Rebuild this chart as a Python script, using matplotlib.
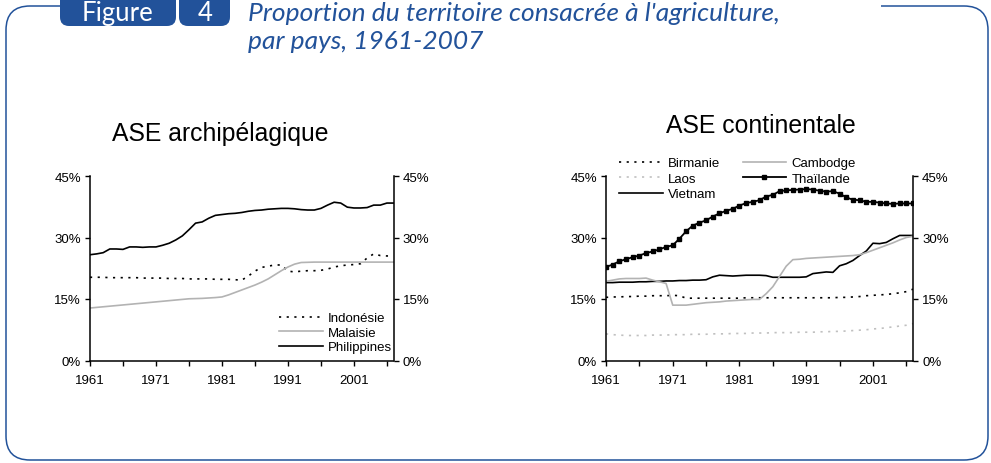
import matplotlib
matplotlib.use("Agg")
import matplotlib.pyplot as plt
import numpy as np
from matplotlib.patches import FancyBboxPatch, PathPatch
from matplotlib.path import Path

# ---------------- data ----------------
years = list(range(1961, 2008))

philippines = [25.8, 26.0, 26.3, 27.2, 27.2, 27.1, 27.7, 27.7, 27.6, 27.7,
               27.7, 28.1, 28.6, 29.4, 30.4, 31.9, 33.5, 33.8, 34.7, 35.4,
               35.6, 35.8, 35.9, 36.1, 36.4, 36.6, 36.7, 36.9, 37.0, 37.1,
               37.1, 37.0, 36.8, 36.7, 36.7, 37.1, 37.9, 38.6, 38.4, 37.4,
               37.2, 37.2, 37.3, 37.9, 37.9, 38.4, 38.4]
indonesie = [20.3, 20.3, 20.3, 20.2, 20.2, 20.2, 20.2, 20.2, 20.1, 20.1,
             20.1, 20.1, 20.0, 20.0, 20.0, 19.9, 19.9, 19.9, 19.9, 19.8,
             19.8, 19.8, 19.7, 19.6, 20.6, 21.8, 22.7, 23.0, 23.3, 23.3,
             21.8, 21.6, 21.8, 21.9, 21.9, 22.0, 22.3, 22.8, 23.1, 23.3,
             23.4, 23.6, 25.0, 26.0, 25.6, 25.5, 25.5]
malaisie = [12.8, 12.95, 13.1, 13.25, 13.4, 13.55, 13.7, 13.85, 14.0, 14.15,
            14.3, 14.45, 14.6, 14.75, 14.9, 15.05, 15.1, 15.15, 15.25, 15.35,
            15.5, 16.0, 16.6, 17.2, 17.8, 18.4, 19.1, 19.9, 20.9, 21.9,
            22.8, 23.5, 23.9, 23.95, 24.0, 24.0, 24.0, 24.0, 24.0, 24.0,
            24.0, 24.0, 24.0, 24.0, 24.0, 24.0, 24.0]

birmanie = [15.4, 15.5, 15.5, 15.6, 15.6, 15.7, 15.7, 15.8, 15.8, 15.8,
            15.9, 15.8, 15.2, 15.2, 15.2, 15.2, 15.2, 15.2, 15.2, 15.2,
            15.2, 15.3, 15.3, 15.3, 15.3, 15.3, 15.3, 15.3, 15.3, 15.3,
            15.3, 15.3, 15.3, 15.3, 15.3, 15.4, 15.4, 15.5, 15.6, 15.8,
            15.9, 16.0, 16.1, 16.3, 16.5, 16.8, 17.4]
cambodge = [19.3, 19.6, 19.9, 20.0, 20.0, 20.0, 20.1, 19.6, 19.2, 18.8,
            13.5, 13.5, 13.5, 13.7, 13.9, 14.1, 14.2, 14.3, 14.5, 14.6,
            14.7, 14.8, 14.9, 14.9, 16.3, 18.0, 20.5, 23.0, 24.6, 24.7,
            24.9, 25.0, 25.1, 25.2, 25.3, 25.4, 25.5, 25.6, 25.8, 26.3,
            26.9, 27.5, 28.1, 28.7, 29.4, 30.0, 30.3]
laos = [6.5, 6.3, 6.2, 6.1, 6.1, 6.1, 6.1, 6.2, 6.2, 6.2,
        6.3, 6.3, 6.3, 6.4, 6.4, 6.4, 6.5, 6.5, 6.5, 6.6,
        6.6, 6.6, 6.7, 6.7, 6.7, 6.8, 6.8, 6.8, 6.8, 6.9,
        6.9, 6.9, 7.0, 7.0, 7.1, 7.1, 7.2, 7.3, 7.4, 7.5,
        7.7, 7.8, 8.0, 8.2, 8.4, 8.6, 9.0]
thailande = [22.8, 23.4, 24.2, 24.7, 25.2, 25.6, 26.2, 26.6, 27.1, 27.7,
             28.1, 29.7, 31.5, 32.9, 33.6, 34.2, 35.1, 35.9, 36.5, 37.0,
             37.8, 38.4, 38.7, 39.1, 40.0, 40.4, 41.3, 41.5, 41.6, 41.7,
             41.8, 41.7, 41.4, 41.2, 41.3, 40.7, 39.8, 39.2, 39.1, 38.7,
             38.7, 38.5, 38.3, 38.2, 38.3, 38.3, 38.3]
vietnam = [19.0, 19.0, 19.1, 19.1, 19.1, 19.2, 19.2, 19.3, 19.3, 19.4,
           19.4, 19.5, 19.5, 19.6, 19.6, 19.7, 20.4, 20.8, 20.7, 20.6,
           20.7, 20.8, 20.8, 20.8, 20.7, 20.3, 20.3, 20.3, 20.3, 20.3,
           20.4, 21.2, 21.4, 21.6, 21.5, 23.1, 23.6, 24.4, 25.6, 26.7,
           28.6, 28.5, 28.8, 29.7, 30.5, 30.5, 30.5]

y_ticks = [0, 15, 30, 45]
y_labels = ["0%", "15%", "30%", "45%"]
x_major = [1961, 1971, 1981, 1991, 2001]
x_minor = [1966, 1976, 1986, 1996, 2006]

title_left = "ASE archipélagique"
title_right = "ASE continentale"
fig_title_1 = "Proportion du territoire consacrée à l'agriculture,"
fig_title_2 = "par pays, 1961-2007"

# ---------------- figure ----------------
W, H = 991, 464
fig = plt.figure(figsize=(W / 100, H / 100), dpi=100)
plt.rcParams["font.family"] = ["Liberation Sans", "DejaVu Sans"]
BLUE = "#22529a"
FS = 9.5

def fx(x):
    return x / W

def fy(y):
    return 1 - y / H

# overlay for frame / header in pixel coordinates
ov = fig.add_axes([0, 0, 1, 1], zorder=-1)
ov.set_xlim(0, W)
ov.set_ylim(H, 0)
ov.axis("off")

r = 24
L, R, T, B = 6, 988, 7, 461
verts = [(60, T), (L + r, T), (L, T), (L, T + r), (L, B - r), (L, B), (L + r, B),
         (R - r, B), (R, B), (R, B - r), (R, T + r), (R, T), (R - r, T), (881, T)]
codes = [Path.MOVETO, Path.LINETO, Path.CURVE3, Path.CURVE3, Path.LINETO,
         Path.CURVE3, Path.CURVE3, Path.LINETO, Path.CURVE3, Path.CURVE3,
         Path.LINETO, Path.CURVE3, Path.CURVE3, Path.LINETO]
ov.add_patch(PathPatch(Path(verts, codes), fill=False, edgecolor=BLUE, lw=1.1))

ov.add_patch(FancyBboxPatch((60, -20), 116, 47, boxstyle="round,pad=0,rounding_size=9",
                            fc=BLUE, ec="none"))
ov.add_patch(FancyBboxPatch((179, -20), 51, 47, boxstyle="round,pad=0,rounding_size=9",
                            fc=BLUE, ec="none"))
ov.text(118, 21, "Figure", color="white", fontsize=18.5, ha="center", va="baseline",
        family=["Lato", "DejaVu Sans"])
ov.text(205, 21, "4", color="white", fontsize=18.5, ha="center", va="baseline",
        family=["Lato", "DejaVu Sans"])
ov.text(248, 21, fig_title_1, color=BLUE, fontsize=19, style="italic",
        ha="left", va="baseline", family=["Lato", "DejaVu Sans"])
ov.text(248, 49, fig_title_2, color=BLUE, fontsize=19, style="italic",
        ha="left", va="baseline", family=["Lato", "DejaVu Sans"])


def style_axes(ax):
    ax.set_xlim(1961, 2007)
    ax.set_ylim(0, 45)
    ax.spines["top"].set_visible(False)
    for s in ("left", "right", "bottom"):
        ax.spines[s].set_linewidth(1.1)
        ax.spines[s].set_color("black")
    ax.set_yticks(y_ticks)
    ax.set_yticklabels(y_labels)
    ax.set_xticks(x_major)
    ax.set_xticks(x_minor, minor=True)
    ax.tick_params(axis="y", which="both", direction="out", length=3.5, width=1,
                   left=True, right=True, labelleft=True, labelright=True,
                   labelsize=FS, pad=3)
    ax.tick_params(axis="x", which="both", direction="out", length=3.5, width=1,
                   labelsize=FS, pad=6)
    ax.tick_params(axis="x", which="minor", labelbottom=False)


# left axes
axL = fig.add_axes([fx(90), fy(361.5), fx(393.5) - fx(90), fy(177) - fy(361.5)])
style_axes(axL)
axL.plot(years, indonesie, color="black", lw=1.2, ls=(0, (1.3, 3.3)), label="Indonésie")
axL.plot(years, malaisie, color="#b3b3b3", lw=1.2, label="Malaisie")
axL.plot(years, philippines, color="black", lw=1.2, label="Philippines")
fig.text(fx(220), fy(141.5), title_left, fontsize=17.8, ha="center", va="baseline")
axL.legend(loc="upper left", bbox_to_anchor=(fx(279), fy(313)), bbox_transform=fig.transFigure,
           frameon=False, fontsize=FS, handlelength=3.3, handletextpad=0.4,
           labelspacing=0.17, borderpad=0, borderaxespad=0)

# right axes
axR = fig.add_axes([fx(606), fy(361.5), fx(913) - fx(606), fy(177) - fy(361.5)])
style_axes(axR)
axR.plot(years, birmanie, color="black", lw=1.2, ls=(0, (1.3, 3.3)), label="Birmanie")
axR.plot(years, laos, color="#c0c0c0", lw=1.2, ls=(0, (1.3, 3.3)), label="Laos")
axR.plot(years, vietnam, color="black", lw=1.2, label="Vietnam")
axR.plot(years, cambodge, color="#b3b3b3", lw=1.2, label="Cambodge")
axR.plot(years, thailande, color="black", lw=1.3, marker="s", ms=3.2, label="Thaïlande")
fig.text(fx(761), fy(133), title_right, fontsize=17.8, ha="center", va="baseline")
axR.legend(ncol=2, loc="upper left", bbox_to_anchor=(fx(619), fy(158)),
           bbox_transform=fig.transFigure,
           frameon=False, fontsize=FS, handlelength=3.3, handletextpad=0.4,
           labelspacing=0.25, borderpad=0, borderaxespad=0, columnspacing=1.7)

fig.savefig("out.png", dpi=100)
